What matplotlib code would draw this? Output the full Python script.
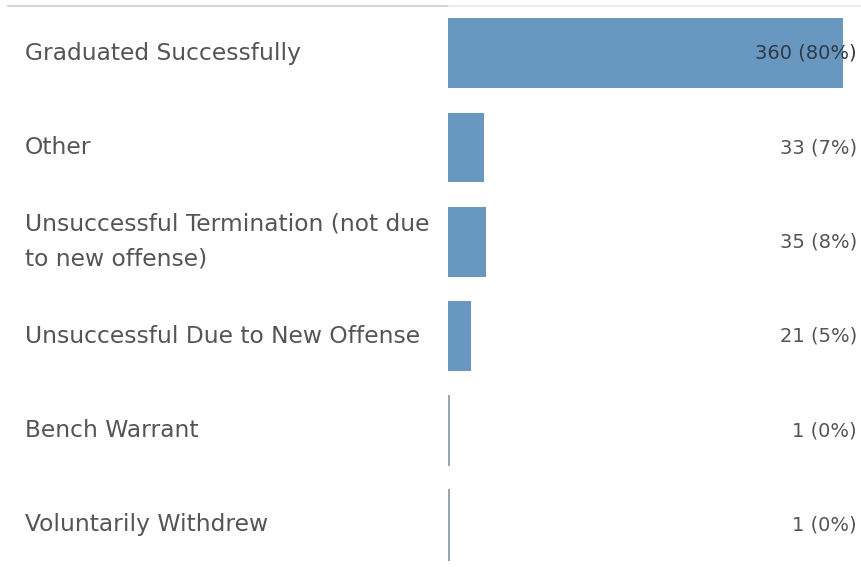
import matplotlib
matplotlib.use("Agg")
import matplotlib.pyplot as plt
from matplotlib.lines import Line2D

categories = ["Graduated Successfully", "Other",
              "Unsuccessful Termination (not due\nto new offense)",
              "Unsuccessful Due to New Offense", "Bench Warrant",
              "Voluntarily Withdrew"]
counts = [360, 33, 35, 21, 1, 1]
pcts = [80, 7, 8, 5, 0, 0]

W, H = 861, 567
fig = plt.figure(figsize=(W / 100, H / 100), dpi=100)
plt.rcParams['font.family'] = ['DejaVu Sans']

ax_left, ax_right = 448 / W, 860 / W
ax_top, ax_bot = 1 - 6 / H, 1 - 572 / H
ax = fig.add_axes([ax_left, ax_bot, ax_right - ax_left, ax_top - ax_bot])
xmax = 360 * (860 - 448) / (843 - 448)
ax.set_xlim(0, xmax)
ax.set_ylim(len(categories) - 0.5, -0.5)
ax.axis("off")

bar_h = 70 / 94.4
ypos = list(range(len(categories)))
for y, c in zip(ypos, counts):
    thin = c < 3
    ax.barh(y, c, height=bar_h, color="#9aa6b1" if thin else "#6898c0",
            edgecolor="#9aa6b1" if thin else "none",
            linewidth=1.5 if thin else 0, left=0)

for y, c, p in zip(ypos, counts, pcts):
    col = "#2e3a48" if y == 0 else "#555555"
    ax.text((857 - 448) / (860 - 448), y, f"{c} ({p}%)",
            transform=ax.get_yaxis_transform(),
            ha="right", va="center", fontsize=14, color=col)

for y, cat in zip(ypos, categories):
    yf = ax_top - (y + 0.5) / len(categories) * (ax_top - ax_bot)
    fig.text(25 / W, yf, cat, ha="left", va="center", fontsize=16.8,
             color="#555555", linespacing=1.65)

fig.add_artist(Line2D([8 / W, 448 / W], [1 - 6 / H, 1 - 6 / H],
                      color="#cccccc", lw=1.2, transform=fig.transFigure))
fig.add_artist(Line2D([448 / W, 860 / W], [1 - 6 / H, 1 - 6 / H],
                      color="#e6e6e6", lw=1.2, transform=fig.transFigure))

fig.savefig("out.png", dpi=100, facecolor="white")
